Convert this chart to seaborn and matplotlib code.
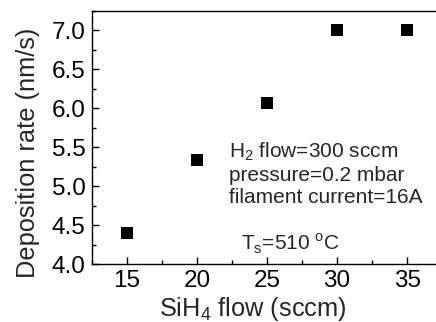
import matplotlib
matplotlib.use('Agg')
import matplotlib.pyplot as plt
import seaborn as sns
import pandas as pd
from matplotlib.ticker import MultipleLocator, FormatStrFormatter

sih4_flow = [15, 20, 25, 30, 35]
dep_rate = [4.40, 5.33, 6.07, 7.0, 7.0]

df = pd.DataFrame({'flow': sih4_flow, 'rate': dep_rate})

sns.set_style('ticks')
plt.rcParams['font.family'] = ['Liberation Sans', 'DejaVu Sans']
plt.rcParams['mathtext.fontset'] = 'custom'
plt.rcParams['mathtext.rm'] = 'Liberation Sans'

fig = plt.figure(figsize=(4.36, 3.22), dpi=100)
ax = fig.add_axes([0.211, 0.180, 0.803, 0.786])

sns.scatterplot(data=df, x='flow', y='rate', marker='s', color='black',
                s=80, edgecolor='black', linewidth=0, ax=ax)

ax.set_xlim(12.5, 37.5)
ax.set_ylim(4.0, 7.25)
ax.xaxis.set_major_locator(MultipleLocator(5))
ax.xaxis.set_minor_locator(MultipleLocator(2.5))
ax.yaxis.set_major_locator(MultipleLocator(0.5))
ax.yaxis.set_minor_locator(MultipleLocator(0.25))
ax.yaxis.set_major_formatter(FormatStrFormatter('%.1f'))
ax.tick_params(which='both', direction='in', colors='black', labelsize=17.5, width=1)
ax.tick_params(which='major', length=5)
ax.tick_params(axis='y', which='major', pad=4.5)
ax.tick_params(axis='x', which='major', pad=4)
ax.tick_params(which='minor', length=3)
for sp in ax.spines.values():
    sp.set_visible(True)
    sp.set_color('black')
    sp.set_linewidth(1)

ax.set_xlabel(r'SiH$_\mathregular{4}$ flow (sccm)', fontsize=18.3, va='baseline')
ax.set_ylabel('Deposition rate (nm/s)', fontsize=18.3, va='baseline')
ax.xaxis.set_label_coords(0.46, -0.205)
ax.yaxis.set_label_coords(-0.163, 0.44)

# va='baseline' on multi-line text anchors the last line
ax.text(22.25, 4.78, 'H$_\\mathregular{2}$ flow=300 sccm\npressure=0.2 mbar\nfilament current=16A',
        fontsize=15, va='baseline', ha='left', linespacing=1.2)
ax.text(23.12, 4.18, r'T$_\mathregular{s}$=510 $^\mathregular{o}$C', fontsize=15,
        va='baseline', ha='left')

fig.savefig('out.png', dpi=100)
